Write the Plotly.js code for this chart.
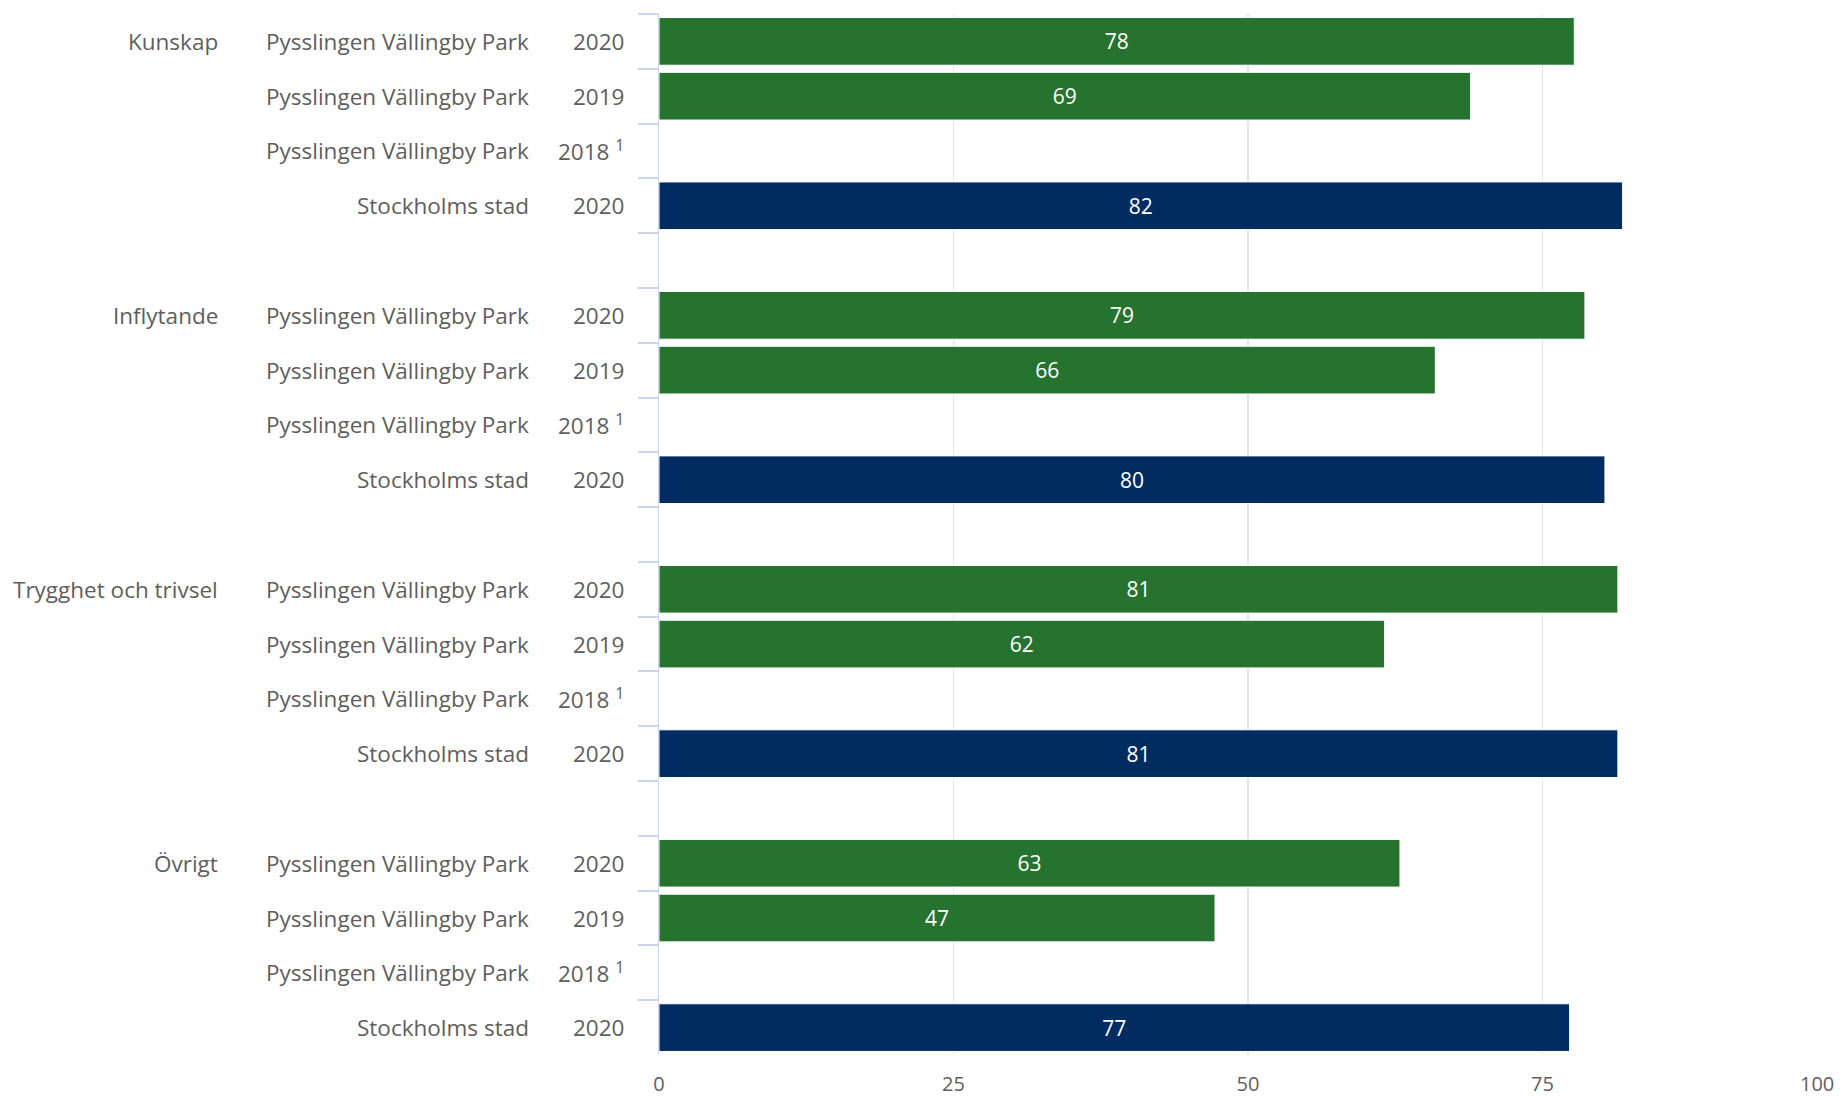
<!DOCTYPE html>
<html>
<head>
<meta charset="utf-8">
<script src="https://cdn.plot.ly/plotly-3.0.1.min.js"></script>
<style>html,body{margin:0;padding:0;background:#fff;}#chart{width:1841px;height:1098px;}</style>
</head>
<body>
<div id="chart"></div>
<script>
// ---- data ----
var groups = ['Kunskap', 'Inflytande', 'Trygghet och trivsel', 'Övrigt'];
var units = ['Pysslingen Vällingby Park', 'Pysslingen Vällingby Park', 'Pysslingen Vällingby Park', 'Stockholms stad'];
var years = ['2020', '2019', '2018 <sup>1</sup>', '2020'];
var kunskap = [77.7, 68.9, null, 81.8];
var inflytande = [78.6, 65.9, null, 80.3];
var trygghet = [81.4, 61.6, null, 81.4];
var ovrigt = [62.9, 47.2, null, 77.3];
var rowColors = ['#26732f', '#26732f', '#26732f', '#002c62'];
var xTicks = [0, 25, 50, 75];
var xLastTick = 100;

var groupValues = [kunskap, inflytande, trygghet, ovrigt];

// ---- build rows ----
var yCats = [], xVals = [], cols = [], annotations = [];
var font = '"Open Sans", Lato, sans-serif';
var txtColor = '#5e5e5e';
var fs = 22.5;
groups.forEach(function (g, gi) {
  units.forEach(function (u, ri) {
    var id = g + '|' + ri;
    yCats.push(id);
    xVals.push(groupValues[gi][ri]);
    cols.push(rowColors[ri]);
    if (ri === 0) {
      annotations.push({xref: 'paper', yref: 'y', x: 0, y: id, xshift: -439, xanchor: 'right', yanchor: 'middle',
        text: g, showarrow: false, font: {family: font, size: fs, color: txtColor}});
    }
    annotations.push({xref: 'paper', yref: 'y', x: 0, y: id, xshift: -128, xanchor: 'right', yanchor: 'middle',
      text: u, showarrow: false, font: {family: font, size: fs, color: txtColor}});
    annotations.push({xref: 'paper', yref: 'y', x: 0, y: id, xshift: -33, xanchor: 'right', yanchor: 'middle',
      text: years[ri], showarrow: false, font: {family: font, size: fs, color: txtColor}});
  });
  if (gi < groups.length - 1) {
    var gid = 'gap' + gi;
    yCats.push(gid);
    xVals.push(null);
    cols.push('#ffffff');
  }
});

annotations.push({xref: 'x', yref: 'paper', x: xLastTick, y: 0, xshift: -2, yshift: -14, xanchor: 'right', yanchor: 'top',
  text: String(xLastTick), showarrow: false, borderpad: 0, font: {family: font, size: 20, color: txtColor}});

var trace = {
  type: 'bar',
  orientation: 'h',
  x: xVals,
  y: yCats,
  marker: {color: cols, line: {color: '#ffffff', width: 1}},
  texttemplate: '%{x:.0f}',
  textposition: 'inside',
  insidetextanchor: 'middle',
  constraintext: 'none',
  textfont: {family: font, size: 21, color: '#ffffff'},
  hoverinfo: 'x',
  cliponaxis: false
};

var layout = {
  width: 1841,
  height: 1098,
  margin: {l: 659, r: 4, t: 14, b: 43},
  paper_bgcolor: '#ffffff',
  plot_bgcolor: '#ffffff',
  showlegend: false,
  bargap: 0.13,
  font: {family: font, size: fs, color: txtColor},
  xaxis: {
    range: [0, 100],
    tickvals: xTicks,
    showgrid: true,
    gridcolor: '#e4e4e4',
    gridwidth: 1.5,
    zeroline: false,
    showline: false,
    ticks: '',
    ticklabelstandoff: 15,
    tickfont: {family: font, size: 20, color: txtColor},
    fixedrange: true
  },
  yaxis: {
    type: 'category',
    categoryorder: 'array',
    categoryarray: yCats,
    range: [yCats.length - 0.5, -0.5],
    showticklabels: false,
    showgrid: false,
    zeroline: false,
    showline: true,
    linecolor: '#ccd6eb',
    linewidth: 1,
    ticks: 'outside',
    tickson: 'boundaries',
    ticklen: 20,
    tickwidth: 2,
    tickcolor: '#ccd6eb',
    fixedrange: true
  },
  annotations: annotations
};

Plotly.newPlot('chart', [trace], layout, {displayModeBar: false, staticPlot: true});
</script>
</body>
</html>
